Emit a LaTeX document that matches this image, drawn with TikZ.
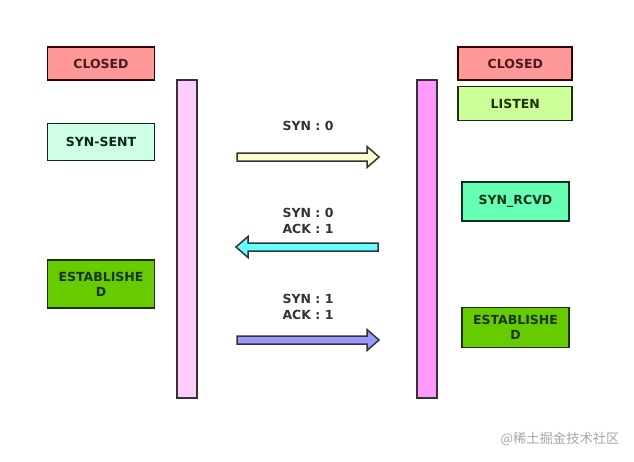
\documentclass[tikz,border=0pt]{standalone}
\usepackage{fontspec}
\setmainfont{DejaVu Sans}
\newfontfamily\cjk{Noto Sans CJK SC}
\usetikzlibrary{calc}
\definecolor{redfill}{HTML}{FF9999}
\definecolor{redline}{HTML}{330000}
\definecolor{redtext}{HTML}{4D1A1A}
\definecolor{mintfill}{HTML}{CCFFE6}
\definecolor{mintline}{HTML}{0D2619}
\definecolor{listenfill}{HTML}{CCFF99}
\definecolor{greenline}{HTML}{1A3300}
\definecolor{rcvdfill}{HTML}{66FFB3}
\definecolor{rcvdline}{HTML}{00331A}
\definecolor{estfill}{HTML}{66CC00}
\definecolor{lifeL}{HTML}{FFCCFF}
\definecolor{lifeR}{HTML}{FF99FF}
\definecolor{darkline}{HTML}{333333}
\definecolor{arrA}{HTML}{FFFFCC}
\definecolor{arrB}{HTML}{66FFFF}
\definecolor{arrC}{HTML}{9999FF}
\tikzset{
  statebox/.style={draw, line width=1.8pt, rectangle, inner sep=0pt, align=center,
    font=\bfseries\fontsize{12.5}{15}\selectfont},
  lifeline/.style={draw=darkline, line width=1.5pt, rectangle, inner sep=0pt,
    minimum width=20pt, minimum height=318pt},
  msglabel/.style={align=center, text=darkline, inner sep=0pt,
    font=\bfseries\fontsize{12.5}{16}\selectfont},
  fatarrow/.style={draw=darkline, line width=1.5pt, line join=miter}
}
\begin{document}
\begin{tikzpicture}[x=1pt,y=-1pt]
\useasboundingbox (0,0) rectangle (634,461);
% lifelines
\node[lifeline, fill=lifeL] (lifeA) at (187,239) {};
\node[lifeline, fill=lifeR] (lifeB) at (427,239) {};
% left states
\node[statebox, fill=redfill, draw=redline, text=redtext, minimum width=107pt, minimum height=32.5pt] (closedA) at (101,63.5) {CLOSED};
\node[statebox, fill=mintfill, draw=mintline, text=mintline, minimum width=107pt, minimum height=37pt] (sentA) at (101,142) {SYN-SENT};
\node[statebox, fill=estfill, draw=greenline, text=greenline, minimum width=107pt, minimum height=48pt] (estA) at (101,284) {ESTABLISHE\\D};
% right states
\node[statebox, fill=redfill, draw=redline, text=redtext, minimum width=114pt, minimum height=32.5pt] (closedB) at (515.3,63.5) {CLOSED};
\node[statebox, fill=listenfill, draw=greenline, text=greenline, minimum width=114pt, minimum height=34pt] (listenB) at (515.3,103.5) {LISTEN};
\node[statebox, fill=rcvdfill, draw=rcvdline, text=rcvdline, minimum width=107pt, minimum height=39pt] (rcvdB) at (515.5,201.3) {SYN\_RCVD};
\node[statebox, fill=estfill, draw=greenline, text=greenline, minimum width=107pt, minimum height=40pt] (estB) at (515.5,327.5) {ESTABLISHE\\D};
% arrow anchors
\coordinate (a1s) at (237,157);
\coordinate (a1e) at (379,157);
\coordinate (a2s) at (378,247);
\coordinate (a2e) at (236,247);
\coordinate (a3s) at (237,340);
\coordinate (a3e) at (379,340);
% arrows
\draw[fatarrow, fill=arrA] ($(a1s)+(0,-4)$) -- ($(a1e)+(-12,-4)$) -- ($(a1e)+(-12,-10.5)$) -- (a1e)
  -- ($(a1e)+(-12,10.5)$) -- ($(a1e)+(-12,4)$) -- ($(a1s)+(0,4)$) -- cycle;
\draw[fatarrow, fill=arrB] ($(a2s)+(0,-4)$) -- ($(a2e)+(12,-4)$) -- ($(a2e)+(12,-10.5)$) -- (a2e)
  -- ($(a2e)+(12,10.5)$) -- ($(a2e)+(12,4)$) -- ($(a2s)+(0,4)$) -- cycle;
\draw[fatarrow, fill=arrC] ($(a3s)+(0,-4)$) -- ($(a3e)+(-12,-4)$) -- ($(a3e)+(-12,-10.5)$) -- (a3e)
  -- ($(a3e)+(-12,10.5)$) -- ($(a3e)+(-12,4)$) -- ($(a3s)+(0,4)$) -- cycle;
% labels
\node[msglabel] (l1) at (308,125.5) {SYN : 0};
\node[msglabel] (l2) at (308,221) {SYN : 0\\ACK : 1};
\node[msglabel] (l3) at (308,307) {SYN : 1\\ACK : 1};
% watermark
\node[text=black!35, font=\cjk\fontsize{13.3}{15}\selectfont, inner sep=0pt] (wm) at (560,439) {@稀土掘金技术社区};
\end{tikzpicture}
\end{document}
